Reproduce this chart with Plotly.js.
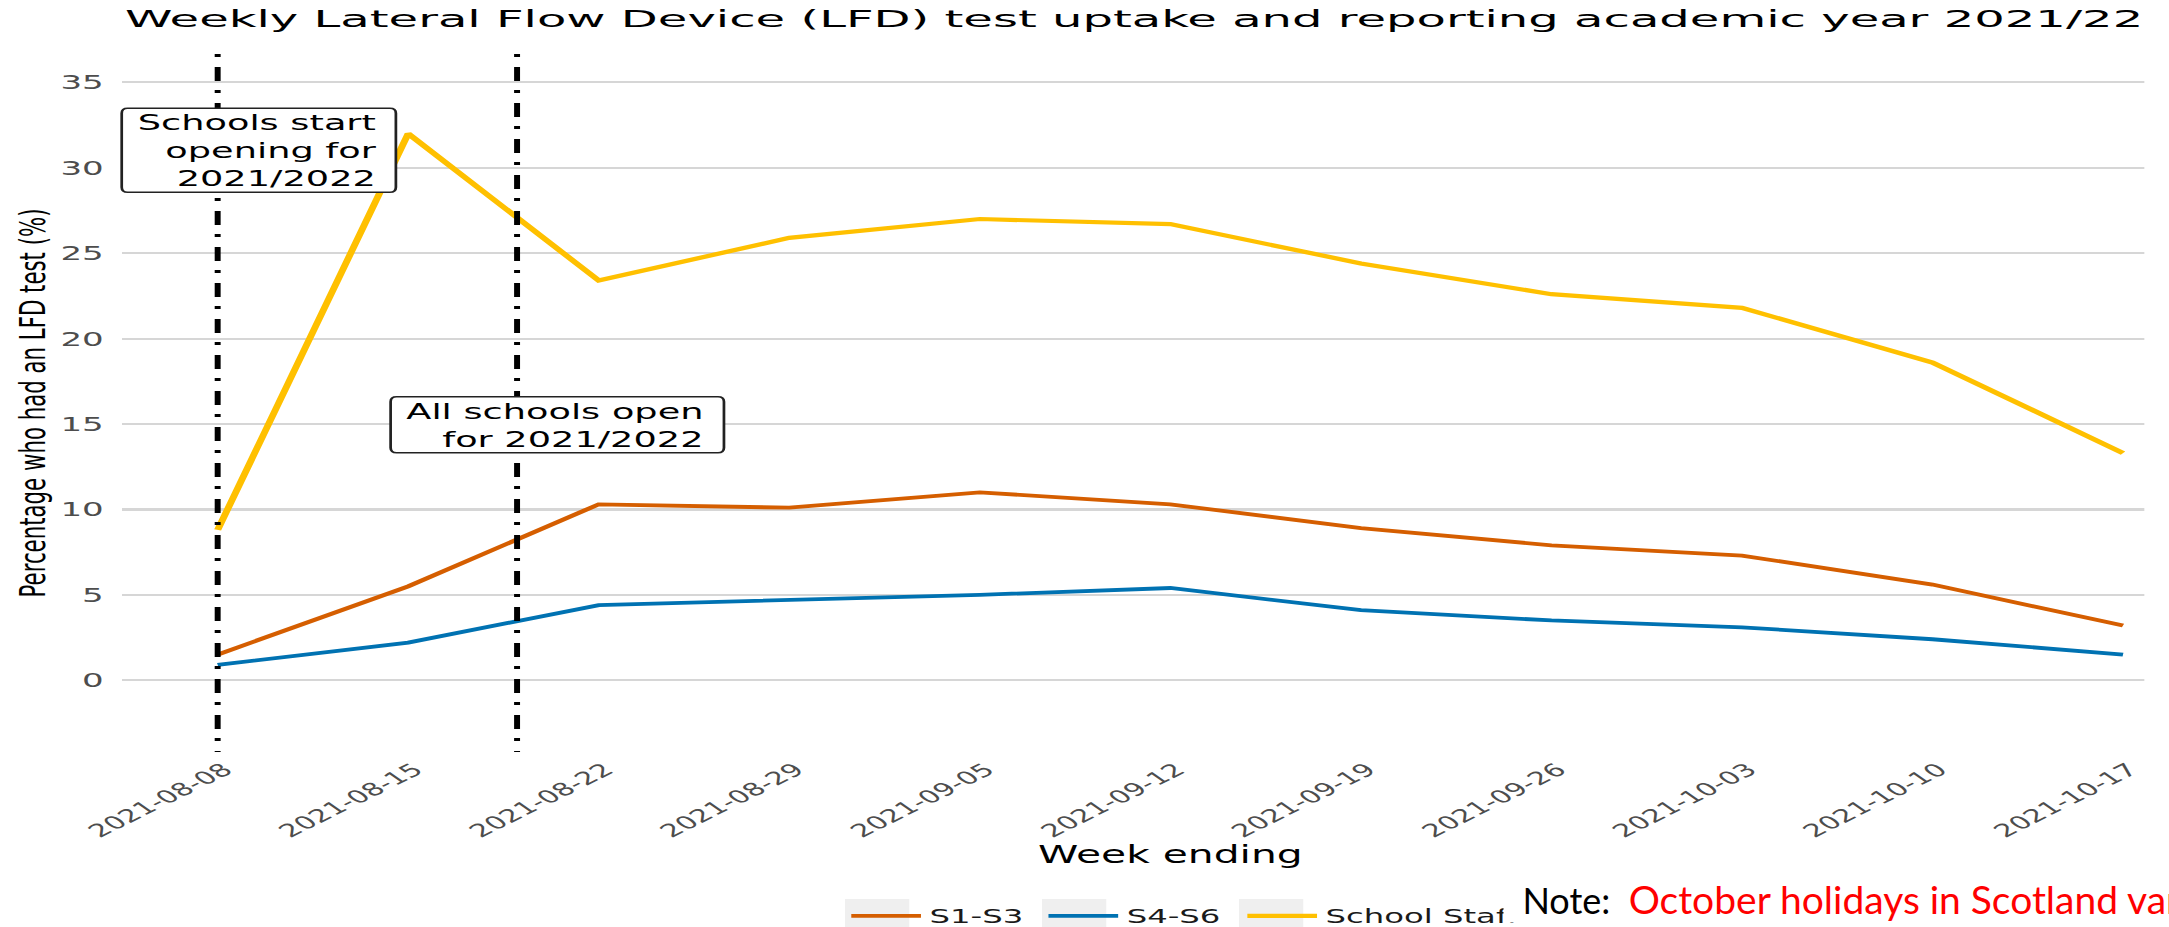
<!DOCTYPE html>
<html><head><meta charset="utf-8">
<script src="https://cdn.plot.ly/plotly-3.0.1.min.js"></script>
<style>
html,body{margin:0;padding:0;width:2169px;height:927px;overflow:hidden;background:#fff;}
#wrap{width:1315px;height:927px;transform:scaleX(1.69984);transform-origin:0 0;}
</style></head><body>
<div id="wrap"><div id="chart"></div></div>
<script>
const weeks = ['2021-08-08','2021-08-15','2021-08-22','2021-08-29','2021-09-05','2021-09-12','2021-09-19','2021-09-26','2021-10-03','2021-10-10','2021-10-17'];
const s1s3 = [1.5, 5.5, 10.3, 10.1, 11.0, 10.3, 8.9, 7.9, 7.3, 5.6, 3.2];
const s4s6 = [0.9, 2.2, 4.4, 4.7, 5.0, 5.4, 4.1, 3.5, 3.1, 2.4, 1.5];
const schoolStaff = [8.8, 32.0, 23.4, 25.9, 27.0, 26.7, 24.4, 22.6, 21.8, 18.6, 13.3];
const seriesNames = ['S1-S3', 'S4-S6', 'School Staff'];
const seriesColors = ['#D55E00', '#0072B2', '#FFC000'];
const eventDates = ['2021-08-08', '2021-08-19'];
const eventLabels = ['Schools start<br>opening for<br>2021/2022', 'All schools open<br>for 2021/2022'];
const yTicks = [0, 5, 10, 15, 20, 25, 30, 35];
const titleText = 'Weekly Lateral Flow Device (LFD) test uptake and reporting academic year 2021/22';
const xTitle = 'Week ending';
const yTitle = 'Percentage who had an LFD test (%)';
const noteLabel = 'Note:';
const noteText = 'October holidays in Scotland vary';

const SX = 1.69984;
const W = 1315, H = 927, M = {l: 72, r: 10, t: 54, b: 175};
const PW = W - M.l - M.r, PH = H - M.t - M.b;
const px = x => (x - M.l) / PW;
const py = y => 1 - (y - M.t) / PH;
function roundRect(x0, y0, x1, y1, rx, ry) {
  const P = (x, y) => px(x).toFixed(5) + ',' + py(y).toFixed(5);
  return 'M' + P(x0 + rx, y0) + ' L' + P(x1 - rx, y0) + ' Q' + P(x1, y0) + ' ' + P(x1, y0 + ry) +
    ' L' + P(x1, y1 - ry) + ' Q' + P(x1, y1) + ' ' + P(x1 - rx, y1) +
    ' L' + P(x0 + rx, y1) + ' Q' + P(x0, y1) + ' ' + P(x0, y1 - ry) +
    ' L' + P(x0, y0 + ry) + ' Q' + P(x0, y0) + ' ' + P(x0 + rx, y0) + ' Z';
}

const legendIds = ['legend', 'legend2', 'legend3'];
const legendX = [495.8, 611.8, 728.8];
const seriesValues = [s1s3, s4s6, schoolStaff];
const traces = seriesValues.map((vals, i) => ({
  type: 'scatter', mode: 'lines', x: weeks, y: vals, name: seriesNames[i], legend: legendIds[i],
  line: {color: seriesColors[i], width: i === 2 ? 4.2 : 3.8}, hoverinfo: 'skip'
}));

const shapes = [];
// legend key backgrounds
[497.1, 613.0, 728.9].forEach(x0 => shapes.push({type: 'rect', xref: 'paper', yref: 'paper',
  x0: px(x0), x1: px(x0 + 37.8), y0: py(899), y1: py(940), fillcolor: '#efefef', line: {width: 0}, layer: 'below'}));
eventDates.forEach(d => shapes.push({
  type: 'line', xref: 'x', yref: 'paper', x0: d, x1: d, y0: 1, y1: 0, layer: 'above',
  line: {color: '#000', width: 3.5, dash: '3px,10px,14px,9px'}
}));
shapes.push({type: 'rect', xref: 'paper', yref: 'paper', x0: px(1261.5), x1: 1.05, y0: 0, y1: 1,
  fillcolor: '#fff', line: {width: 0}, layer: 'above'});
shapes.push({type: 'path', xref: 'paper', yref: 'paper', path: roundRect(71.6, 108.3, 232.9, 192.3, 3.5, 5),
  fillcolor: '#fff', line: {color: '#222', width: 1.6}, layer: 'above'});
shapes.push({type: 'path', xref: 'paper', yref: 'paper', path: roundRect(229.8, 396.7, 425.9, 452.7, 3.5, 5),
  fillcolor: '#fff', line: {color: '#222', width: 1.6}, layer: 'above'});

const annotations = [
  {xref: 'paper', yref: 'paper', x: px(223), y: py(150.5), xanchor: 'right', yanchor: 'middle', align: 'right',
   text: eventLabels[0], showarrow: false, font: {size: 21.6, color: '#000'}},
  {xref: 'paper', yref: 'paper', x: px(416), y: py(425.5), xanchor: 'right', yanchor: 'middle', align: 'right',
   text: eventLabels[1], showarrow: false, font: {size: 21.6, color: '#000'}},
  {xref: 'paper', yref: 'paper', x: px(1503 / SX), y: py(899), xanchor: 'left', yanchor: 'middle', align: 'left',
   text: '\u00A0\u00A0' + noteLabel + '\u00A0\u00A0<span style="color:#ff0000;font-size:39px">' + noteText + '</span>',
   showarrow: false, bgcolor: '#fff', borderpad: 0, font: {family: 'Lato, Liberation Sans, sans-serif', size: 36, color: '#000'}}
];

const legendBase = {orientation: 'h', xref: 'paper', xanchor: 'left', yref: 'container', y: 1 - 916 / H,
  yanchor: 'middle', font: {size: 19, color: '#1a1a1a'}, bgcolor: 'rgba(0,0,0,0)', itemwidth: 41, borderwidth: 0};

const layout = {
  width: W, height: H,
  margin: {l: M.l, r: M.r, t: M.t, b: M.b, pad: 0, autoexpand: false},
  paper_bgcolor: '#fff', plot_bgcolor: '#fff',
  font: {family: 'DejaVu Sans, sans-serif', color: '#000'},
  title: {text: titleText, font: {size: 23, color: '#000'}, xref: 'container', x: 73.5 / W, xanchor: 'left',
    yref: 'container', y: 1 - 26.7 / H, yanchor: 'bottom'},
  xaxis: {type: 'date', range: ['2021-08-04 12:00', '2021-10-20 12:00'], tickvals: weeks, ticktext: weeks,
    tickangle: -40, tickfont: {size: 17.8, color: '#4d4d4d'}, showgrid: false, zeroline: false, showline: false,
    ticks: '', ticklabelshift: 4, ticklabelstandoff: 3, automargin: false, fixedrange: true,
    title: {text: xTitle, font: {size: 24, color: '#000'}, standoff: 0}},
  yaxis: {range: [-4.2, 36.66], tickvals: yTicks, tickfont: {size: 20, color: '#4d4d4d'}, gridcolor: '#d6d6d6',
    gridwidth: 2.2, zeroline: false, showline: false, ticks: '', ticklabelstandoff: 10, automargin: false, fixedrange: true,
    title: {text: yTitle, font: {size: 21.3, color: '#000'}, standoff: 2}},
  showlegend: true,
  legend: Object.assign({}, legendBase, {x: px(legendX[0])}),
  legend2: Object.assign({}, legendBase, {x: px(legendX[1])}),
  legend3: Object.assign({}, legendBase, {x: px(legendX[2])}),
  shapes: shapes, annotations: annotations
};

Plotly.newPlot('chart', traces, layout, {displayModeBar: false, staticPlot: true}).then(gd => {
  const t = gd.querySelector('.g-gtitle .gtitle');
  if (t) {
    const X = parseFloat(t.getAttribute('x'));
    const k = 1.229;
    t.setAttribute('transform', `translate(${X},0) scale(${k},1) translate(${-X},0)`);
  }
  const n = gd.querySelector('.annotation[data-index="2"] .annotation-text-g');
  if (n) {
    const bb = n.getBBox();
    const X = bb.x;
    n.setAttribute('transform', `translate(${X},0) scale(${1 / SX},1) translate(${-X},0)`);
  }
});
</script>
</body></html>
